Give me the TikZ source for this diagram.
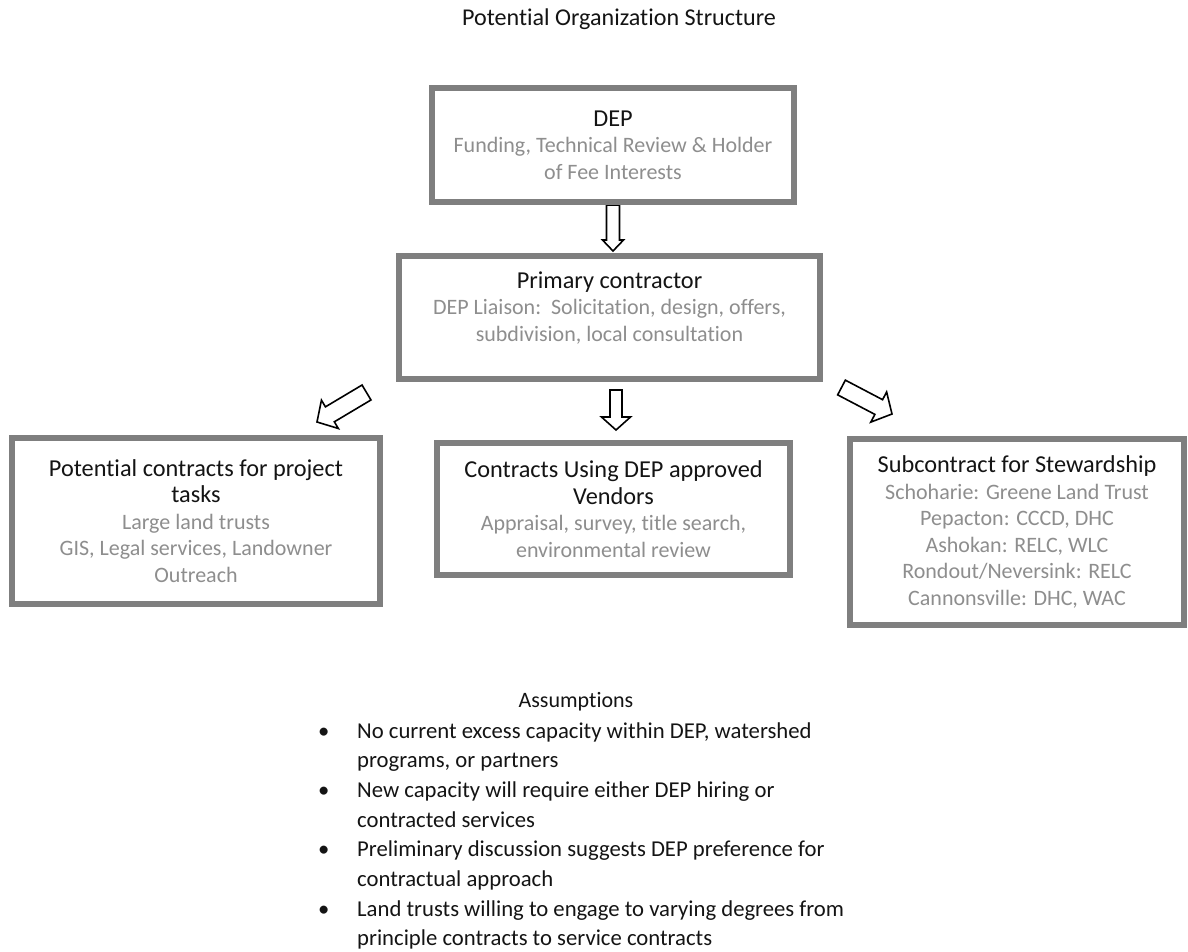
\documentclass[tikz,border=0pt]{standalone}
\usepackage{fontspec}
\setmainfont{Carlito}[Ligatures=NoCommon]
\usetikzlibrary{calc,backgrounds}

\definecolor{boxgray}{HTML}{7F7F7F}
\definecolor{notegray}{HTML}{8E8E8E}
\definecolor{headblack}{HTML}{141414}

\tikzset{
  orgbox/.style={draw=boxgray, line width=6pt, fill=white, align=center, inner sep=0pt,
    text=notegray, font=\fontsize{22}{26.5}\selectfont},
  hollow/.style={draw=black, line width=1.6pt, line join=miter, fill=white},
  plaintext/.style={text=headblack, inner sep=0pt},
}
\newcommand{\boxhead}[1]{{\color{headblack}\fontsize{24.3}{28}\selectfont #1}}
% #1 from, #2 to, #3 shaft half width, #4 head half width, #5 head length
\newcommand{\hollowarrow}[5]{%
  \path ($(#2)!#5!(#1)$) coordinate (hb);
  \draw[hollow] ($(#1)!#3!90:(#2)$) -- ($(hb)!#3!-90:(#1)$) -- ($(hb)!#4!-90:(#1)$) -- (#2)
    -- ($(hb)!#4!90:(#1)$) -- ($(hb)!#3!90:(#1)$) -- ($(#1)!#3!-90:(#2)$) -- cycle;
}

\begin{document}
\begin{tikzpicture}[x=1pt, y=-1pt]
    \useasboundingbox (0,0) rectangle (1188,951);

    % Title
    \node[plaintext, anchor=base, font=\fontsize{24.1}{28}\selectfont] (title) at (619,25) {Potential Organization Structure};

    % Draw boxes
    \node[orgbox, minimum width=362pt, minimum height=114pt] (dep) at (613,145)
        {\boxhead{DEP}\\ Funding, Technical Review \& Holder\\ of Fee Interests};
    \node[orgbox, minimum width=421pt, minimum height=123pt] (prim) at (609.5,317.5)
        {\boxhead{Primary contractor}\\ DEP Liaison:\ \ Solicitation, design, offers,\\ subdivision, local consultation\rule[-22pt]{0pt}{0pt}};
    \node[orgbox, minimum width=368pt, minimum height=166pt] (tasks) at (196,521)
        {\boxhead{Potential contracts for project}\\ \boxhead{tasks}\\ Large land trusts\\ GIS, Legal services, Landowner\\ Outreach};
    \node[orgbox, minimum width=353pt, minimum height=132pt] (vendors) at (613.5,509)
        {\boxhead{Contracts Using DEP approved}\\ \boxhead{Vendors}\\ Appraisal, survey, title search,\\ environmental review};
    \node[orgbox, minimum width=334pt, minimum height=186pt] (steward) at (1017,532)
        {\boxhead{Subcontract for Stewardship}\\ Schoharie: Greene Land Trust\\ Pepacton: CCCD, DHC\\ Ashokan: RELC, WLC\\ Rondout/Neversink: RELC\\ Cannonsville: DHC, WAC};

    % Draw arrows
    \coordinate (dep-to) at ($(dep.south)+(0,46)$);
    \coordinate (ven-from) at (616,390);
    \coordinate (ven-to) at (616,430);
    \coordinate (task-from) at (366.5,392.5);
    \coordinate (task-to) at (317,422);
    \coordinate (stew-from) at (841.5,387.5);
    \coordinate (stew-to) at (892,414);
    \begin{scope}[on background layer]
        \hollowarrow{dep.south}{dep-to}{6.5pt}{10.5pt}{11pt}
        \hollowarrow{ven-from}{ven-to}{6pt}{14.5pt}{13pt}
        \hollowarrow{task-from}{task-to}{8.7pt}{16.5pt}{15pt}
        \hollowarrow{stew-from}{stew-to}{8.3pt}{17pt}{15pt}
    \end{scope}

    % Assumptions
    \node[plaintext, anchor=base, font=\fontsize{22}{27}\selectfont] (asshead) at (576,707) {Assumptions};
    \node[plaintext, anchor=north west, font=\fontsize{22.7}{29.7}\selectfont] (asslist) at (318,717) {%
        \begin{tabular}{@{}p{39pt}@{}l@{}}
        \textbullet & No current excess capacity within DEP, watershed\\
                    & programs, or partners\\
        \textbullet & New capacity will require either DEP hiring or\\
                    & contracted services\\
        \textbullet & Preliminary discussion suggests DEP preference for\\
                    & contractual approach\\
        \textbullet & Land trusts willing to engage to varying degrees from\\
                    & principle contracts to service contracts
        \end{tabular}};
\end{tikzpicture}
\end{document}
